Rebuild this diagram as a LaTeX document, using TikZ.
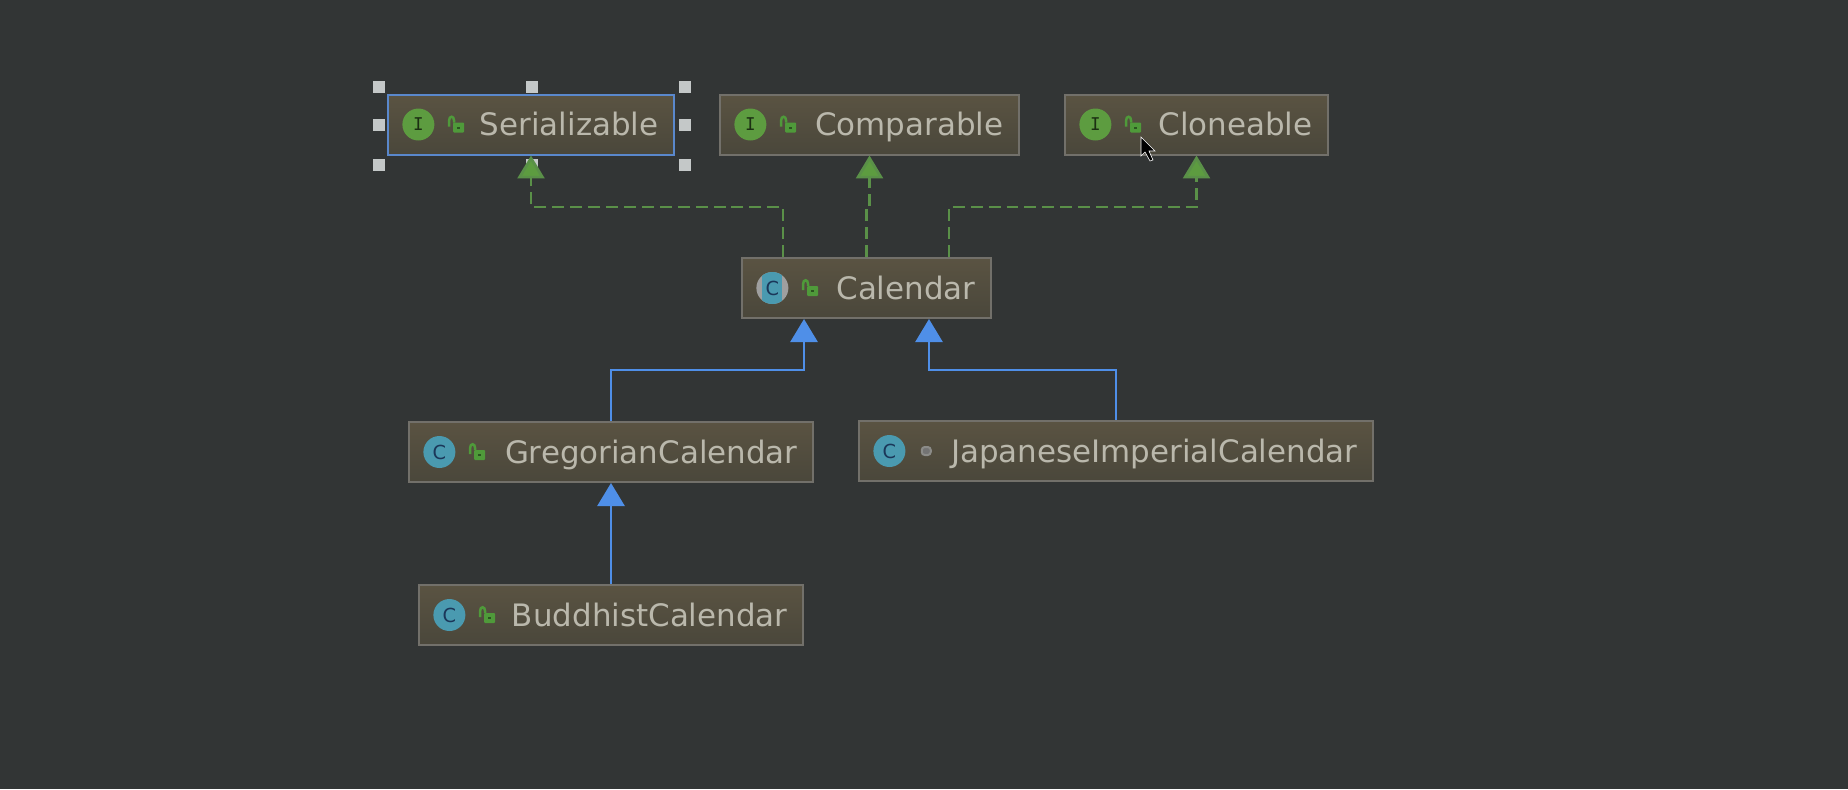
\documentclass[tikz,border=0pt]{standalone}
\usepackage{fontspec}
\usetikzlibrary{positioning, arrows.meta}

\newfontfamily\umlfont{DejaVu Sans}
\newfontfamily\umlmono{DejaVu Sans Mono}

\definecolor{canvas}{HTML}{323535}
\definecolor{boxtop}{HTML}{5A5342}
\definecolor{boxbottom}{HTML}{4A473B}
\definecolor{boxline}{HTML}{72706A}
\definecolor{boxselect}{HTML}{5A88CC}
\definecolor{labelgrey}{HTML}{BAB8AC}
\definecolor{ifacegreen}{HTML}{5D9C40}
\definecolor{lockgreen}{HTML}{4F9A3A}
\definecolor{realizegreen}{HTML}{5A9048}
\definecolor{extendblue}{HTML}{4F8FE8}
\definecolor{classteal}{HTML}{4A9AB0}
\definecolor{handlegrey}{HTML}{C4C8C8}

\tikzset{
    classbox/.style={draw=boxline, line width=0.04cm, top color=boxtop, bottom color=boxbottom, minimum height=1.2cm, text height=0.44cm, text depth=0pt, inner xsep=0.31cm, inner ysep=0pt, align=right, text=labelgrey, font=\umlfont\fontsize{17.6}{20}\selectfont},
    selected/.style={draw=boxselect},
    iface/.style={circle, fill=ifacegreen, minimum size=0.64cm, inner sep=0pt, text=black!70!ifacegreen, font=\umlmono\fontsize{10}{12}\selectfont},
    classicon/.style={circle, fill=classteal, minimum size=0.64cm, inner sep=0pt, text=black!60!classteal!90!blue, font=\umlfont\fontsize{11}{12}\selectfont},
    lockicon/.style={minimum size=0.4cm, inner sep=0pt, path picture={
        \fill[lockgreen, rounded corners=0.02cm, shift={(path picture bounding box.center)}] (-3,-2) rectangle (8,8);
        \fill[black!45!lockgreen, shift={(path picture bounding box.center)}] (1,2) rectangle (4,4);
        \draw[lockgreen, line width=0.05cm, shift={(path picture bounding box.center)}] (-7,2) -- (-7,-4) .. controls (-7,-9) and (-2,-9) .. (-2,-4) -- (-2,-2);}},
    packageicon/.style={rectangle, rounded corners=0.06cm, draw=gray!80!labelgrey, line width=0.04cm, fill=gray!90!black, minimum width=0.18cm, minimum height=0.16cm, inner sep=0pt},
    handle/.style={fill=handlegrey, minimum size=0.24cm, inner sep=0pt},
    realize/.style={realizegreen, line width=0.055cm, dash pattern=on 6.8pt off 3.4pt, -{Triangle[length=0.46cm, width=0.54cm, fill=ifacegreen]}},
    extend/.style={extendblue, line width=0.055cm, -{Triangle[length=0.46cm, width=0.54cm]}},
}

\begin{document}
\begin{tikzpicture}[x=0.02cm, y=-0.02cm]
    \useasboundingbox[fill=canvas] (0,0) rectangle (1848,789);

    % selection handles
    \node[handle] (handleNW) at (379,87) {};
    \node[handle] (handleN) at (532,87) {};
    \node[handle] (handleNE) at (685,87) {};
    \node[handle] (handleW) at (379,125) {};
    \node[handle] (handleE) at (685,125) {};
    \node[handle] (handleSW) at (379,165) {};
    \node[handle] (handleS) at (532,165) {};
    \node[handle] (handleSE) at (685,165) {};

    \node[classbox, selected, text width=5.1cm] (serializable) at (531,124.5) {Serializable};
    \node[iface, right = 0.3cm of serializable.west] (serializableIcon) {I};
    \node[lockicon, right = 0.22cm of serializableIcon] (serializableLock) {};

    \node[classbox, text width=5.36cm] (comparable) at (869.5,124.5) {Comparable};
    \node[iface, right = 0.3cm of comparable.west] (comparableIcon) {I};
    \node[lockicon, right = 0.22cm of comparableIcon] (comparableLock) {};

    \node[classbox, text width=4.64cm] (cloneable) at (1196.5,124.5) {Cloneable};
    \node[iface, right = 0.3cm of cloneable.west] (cloneableIcon) {I};
    \node[lockicon, right = 0.22cm of cloneableIcon] (cloneableLock) {};

    \node[classbox, text width=4.36cm] (calendar) at (866.5,288) {Calendar};
    \node[classicon, fill=gray!75, right = 0.3cm of calendar.west] (calendarIcon) {};
    \begin{scope}
        \clip (calendarIcon.center) circle [radius=16];
        \fill[classteal] ([xshift=-0.2cm]calendarIcon.north) rectangle ([xshift=0.2cm]calendarIcon.south);
    \end{scope}
    \node[classicon, fill=none] (calendarLetter) at (calendarIcon) {C};
    \node[lockicon, right = 0.22cm of calendarIcon] (calendarLock) {};

    \node[classbox, text width=7.46cm] (gregorian) at (611,452) {GregorianCalendar};
    \node[classicon, right = 0.3cm of gregorian.west] (gregorianIcon) {C};
    \node[lockicon, right = 0.22cm of gregorianIcon] (gregorianLock) {};

    \node[classbox, text width=9.66cm] (japanese) at (1116,451) {JapaneseImperialCalendar};
    \node[classicon, right = 0.3cm of japanese.west] (japaneseIcon) {C};
    \node[packageicon, right = 0.3cm of japaneseIcon] (japaneseLock) {};

    \node[classbox, text width=7.06cm] (buddhist) at (611,615) {BuddhistCalendar};
    \node[classicon, right = 0.3cm of buddhist.west] (buddhistIcon) {C};
    \node[lockicon, right = 0.22cm of buddhistIcon] (buddhistLock) {};

    \draw[realize] ([xshift=-1.67cm]calendar.north) -- ++(0,-50) -| (serializable.south);
    \draw[realize] (calendar.north) -- ++(0,-50) -| (comparable.south);
    \draw[realize] ([xshift=1.65cm]calendar.north) -- ++(0,-50) -| (cloneable.south);
    \draw[extend] (gregorian.north) -- ++(0,-51) -| ([xshift=-1.25cm]calendar.south);
    \draw[extend] (japanese.north) -- ++(0,-50) -| ([xshift=1.25cm]calendar.south);
    \draw[extend] (buddhist) -- (gregorian);

    % mouse pointer
    \draw[white, line width=0.012cm, fill=black] (1141,137) -- (1141,156) -- (1145,152) -- (1150,161) -- (1153,160) -- (1149,151) -- (1155,151) -- cycle;
\end{tikzpicture}
\end{document}
